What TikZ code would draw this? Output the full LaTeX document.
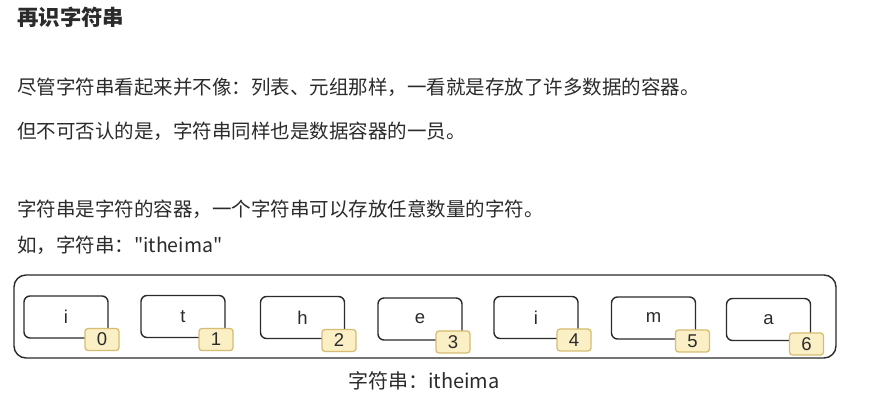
\documentclass[tikz,border=0pt]{standalone}
\usepackage{fontspec}
\setmainfont{Noto Sans CJK SC}
\newfontfamily\latinsf{Liberation Sans}
\definecolor{txt}{HTML}{2B2B2B}
\definecolor{tagfill}{HTML}{FBEFC6}
\definecolor{tagdraw}{HTML}{D6BD72}
\begin{document}
\begin{tikzpicture}[x=1pt,y=-1pt,
  para/.style={anchor=west,inner sep=0pt,text=txt,font=\fontsize{19.5}{23}\selectfont},
  charbox/.style={draw=txt,line width=1.4pt,rounded corners=6pt,minimum width=84pt,minimum height=42pt,inner sep=0pt,text=txt,font=\latinsf\fontsize{18.5}{20}\selectfont},
  idxtag/.style={draw=tagdraw,fill=tagfill,line width=1.3pt,rounded corners=3pt,minimum width=34pt,minimum height=22pt,inner sep=0pt,text=txt,font=\latinsf\fontsize{18.5}{20}\selectfont},
  outerbox/.style={draw=txt,line width=1.4pt,rounded corners=12pt}]
\useasboundingbox (0,0) rectangle (878,411);
\fill[white] (0,0) rectangle (878,411);
\node[para,font=\fontsize{21.4}{24}\selectfont\bfseries] (title) at (17,17) {再识字符串};
\node[para] (l1) at (17,87) {尽管字符串看起来并不像：列表、元组那样，一看就是存放了许多数据的容器。};
\node[para] (l2) at (17,131) {但不可否认的是，字符串同样也是数据容器的一员。};
\node[para] (l3) at (17,209) {字符串是字符的容器，一个字符串可以存放任意数量的字符。};
\node[para] (l4) at (17,245) {如，字符串：\textquotedbl itheima\textquotedbl};
\draw[outerbox] (14,275) rectangle (836,358);
\node[charbox] (c0) at (66,317) {i};
\node[charbox] (c1) at (183,316.5) {t};
\node[charbox] (c2) at (302.5,317.5) {h};
\node[charbox] (c3) at (420,319) {e};
\node[charbox] (c4) at (536,317.5) {i};
\node[charbox] (c5) at (653.5,318) {m};
\node[charbox] (c6) at (768.5,319.5) {a};
\node[idxtag] (t0) at (102,339.5) {0};
\node[idxtag] (t1) at (216,339.5) {1};
\node[idxtag] (t2) at (339,340.5) {2};
\node[idxtag] (t3) at (453,342) {3};
\node[idxtag] (t4) at (574,340) {4};
\node[idxtag] (t5) at (692.5,341) {5};
\node[idxtag] (t6) at (806.5,344) {6};
\node[inner sep=0pt,text=txt,font=\fontsize{20}{22}\selectfont] (cap) at (424,381) {字符串：itheima};
\end{tikzpicture}
\end{document}
